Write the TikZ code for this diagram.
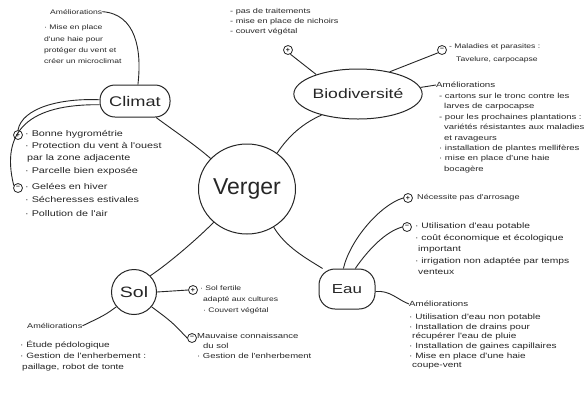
\documentclass[tikz,border=0pt]{standalone}
\usepackage{fontspec}
\setmainfont{Liberation Sans}
\newfontfamily\hand[FakeStretch=1.3]{Liberation Sans}
\newcommand\hsz[2]{\fontsize{#1}{#2}\selectfont}
\usetikzlibrary{shapes.geometric}
\definecolor{ink}{HTML}{262626}
\begin{document}
\begin{tikzpicture}[x=1pt,y=-1pt,
  link/.style={draw=ink, line width=0.9pt},
  hub/.style={draw=ink, line width=1pt, text=ink, inner sep=0pt},
  pm/.style={circle, draw=ink, line width=0.8pt, minimum size=9pt, inner sep=0pt, font=\hsz{7}{7}\bfseries, text=ink},
  note/.style={anchor=north west, align=left, inner sep=0pt, text=ink},
]
\useasboundingbox[fill=white] (0,0) rectangle (584,392);

% main nodes
\node[hub, ellipse, minimum width=97pt, minimum height=90pt, font=\hsz{23}{23}] (verger) at (247,189) {Verger};
\node[hub, rectangle, rounded corners=15pt, minimum width=70pt, minimum height=32pt, font=\hand\hsz{14}{14}] (climat) at (135,101) {Climat};
\node[hub, ellipse, minimum width=104pt, minimum height=50pt, font=\hand\hsz{13.5}{14}] (bio) at (358,94) {Biodiversité};
\node[hub, rectangle, rounded corners=16pt, minimum width=56pt, minimum height=40pt, font=\hand\hsz{13}{13}] (eau) at (347,289) {Eau};
\node[hub, circle, minimum size=45pt, font=\hand\hsz{15}{15}] (sol) at (134,292) {Sol};

% plus / minus markers
\node[pm] (cp) at (18,135) {+};
\node[pm] (cm) at (18,188) {\raisebox{0.3pt}{–}};
\node[pm] (bp) at (288,50) {+};
\node[pm] (bm) at (442,50) {\raisebox{0.3pt}{–}};
\node[pm] (ep) at (408,198) {+};
\node[pm] (em) at (407,227) {\raisebox{0.3pt}{–}};
\node[pm] (sp) at (193,290) {+};
\node[pm] (sm) at (192,338) {\raisebox{0.3pt}{–}};

% Climat texts
\node[note, font=\hand\hsz{6.6}{11}] (cAmT) at (50,9) {Améliorations};
\node[note, font=\hand\hsz{6.6}{11.3}] (cAmL) at (44,25) {· Mise en place\\ d'une haie pour\\ protéger du vent et\\ créer un microclimat};
\node[note, font=\hand\hsz{8.3}{12.3}] (cpT) at (25,130) {· Bonne hygrométrie\\ · Protection du vent à l'ouest\\ \hspace*{2pt}par la zone adjacente\\ · Parcelle bien exposée};
\node[note, font=\hand\hsz{8.3}{13.5}] (cmT) at (25,183) {· Gelées en hiver\\ · Sécheresses estivales\\ · Pollution de l'air};

% Biodiversite texts
\node[note, font=\hand\hsz{7}{10}] (bpT) at (230,8) {- pas de traitements\\ - mise en place de nichoirs\\ - couvert végétal};
\node[note, font=\hand\hsz{6.6}{13}] (bmT) at (449,44) {- Maladies et parasites :\\ \hspace*{7pt}Tavelure, carpocapse};
\node[note, font=\hand\hsz{7.5}{10}] (bAmT) at (436,82) {Améliorations};
\node[note, font=\hand\hsz{7.3}{10.4}] (bAmL) at (439,93) {- cartons sur le tronc contre les\\ \hspace*{5pt}larves de carpocapse\\ - pour les prochaines plantations :\\ \hspace*{5pt}variétés résistantes aux maladies\\ \hspace*{5pt}et ravageurs\\ · installation de plantes mellifères\\ · mise en place d'une haie\\ \hspace*{5pt}bocagère};

% Eau texts
\node[note, font=\hand\hsz{7}{10}] (epT) at (417,194) {Nécessite pas d'arrosage};
\node[note, font=\hand\hsz{7.9}{11.5}] (emT) at (415,223) {· Utilisation d'eau potable\\ · coût économique et écologique\\ \hspace*{3pt}important\\ · irrigation non adaptée par temps\\ \hspace*{3pt}venteux};
\node[note, font=\hand\hsz{7.5}{10}] (eAmT) at (409,301) {Améliorations};
\node[note, font=\hand\hsz{7.7}{9.6}] (eAmL) at (409,314) {· Utilisation d'eau non potable\\ · Installation de drains pour\\ \hspace*{3pt}récupérer l'eau de pluie\\ · Installation de gaines capillaires\\ · Mise en place d'une haie\\ \hspace*{3pt}coupe-vent};

% Sol texts
\node[note, font=\hand\hsz{6.6}{11}] (spT) at (200,286) {· Sol fertile\\ \hspace*{3pt}adapté aux cultures\\ \hspace*{3pt}· Couvert végétal};
\node[note, font=\hand\hsz{7.3}{10}] (smT) at (197,333) {Mauvaise connaissance\\ \hspace*{6pt}du sol\\ · Gestion de l'enherbement};
\node[note, font=\hand\hsz{7}{10}] (sAmT) at (27,323) {Améliorations};
\node[note, font=\hand\hsz{7.7}{11}] (sAmL) at (20,341) {· Étude pédologique\\ · Gestion de l'enherbement :\\ \hspace*{2pt}paillage, robot de tonte};

% connectors from Verger
\draw[link] (verger.140) .. controls +(-16,-14) and +(16,12) .. (climat.-38);
\draw[link] (verger.50) .. controls +(12,-18) and +(-18,8) .. (bio.-150);
\draw[link] (verger.-135) .. controls +(-18,18) and +(18,-12) .. (sol.45);
\draw[link] (verger.-55) .. controls +(12,20) and +(-16,-10) .. (eau.140);

% Climat branches
\draw[link] (cAmT.east) .. controls (136,14) and (142,50) .. (climat.80);
\draw[link] (climat.178) .. controls (60,98) and (22,108) .. (cp.north);
\draw[link] (climat.186) .. controls (30,104) and (0,130) .. (cm.150);

% Biodiversite branches
\draw[link] (bio.155) -- (bp.-60);
\draw[link] (bio.35) -- (bm.-145);
\draw[link] (bio.6) -- (bAmT.west);

% Eau branches
\draw[link] (eau.100) .. controls (350,240) and (380,205) .. (ep.west);
\draw[link] (eau.68) .. controls (368,250) and (385,232) .. (em.west);
\draw[link] (eau.-5) .. controls (390,290) and (398,300) .. (eAmT.west);

% Sol branches
\draw[link] (sol.east) -- (sp.west);
\draw[link] (sol.-40) .. controls (172,322) .. (sm.west);
\draw[link] (sol.-140) .. controls (105,315) .. (sAmT.east);
\end{tikzpicture}
\end{document}
